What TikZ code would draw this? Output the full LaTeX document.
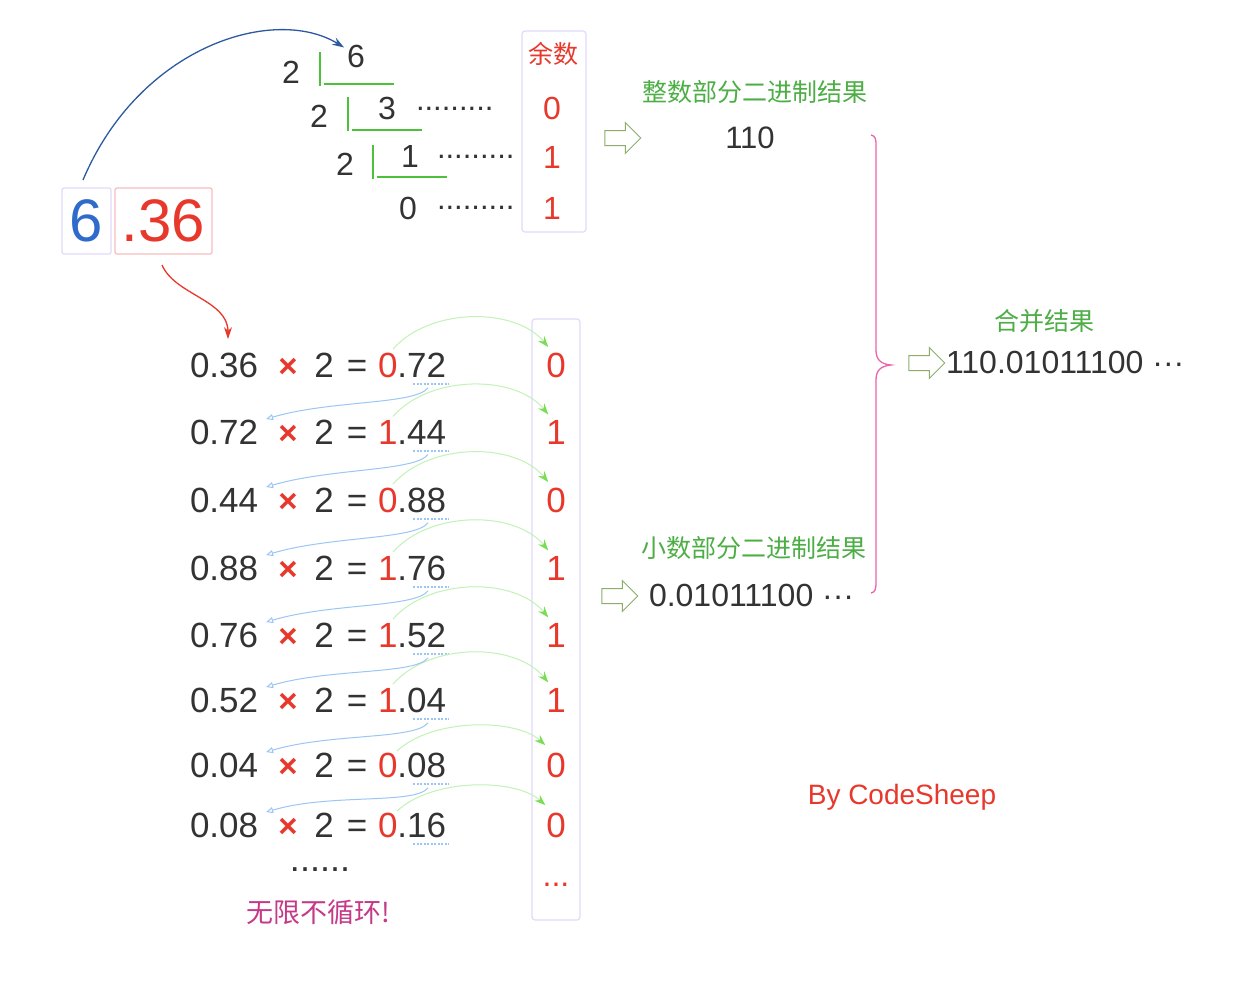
\documentclass[tikz,border=0pt]{standalone}
\usepackage{fontspec}
\setmainfont{Liberation Sans}
\newfontfamily\cjk{Noto Sans CJK SC}
\usetikzlibrary{arrows.meta,shapes.arrows,calc}
\definecolor{txt}{HTML}{333333}
\definecolor{redc}{HTML}{E8382C}
\definecolor{bluec}{HTML}{2F6BCB}
\definecolor{darkblue}{HTML}{2C5AA0}
\definecolor{greenln}{HTML}{4CC13A}
\definecolor{greentx}{HTML}{4DAE45}
\definecolor{lavender}{HTML}{E2DAFB}
\definecolor{pinkbox}{HTML}{F6BEBE}
\definecolor{garc}{HTML}{C2F2B6}
\definecolor{gtip}{HTML}{7BDD55}
\definecolor{barc}{HTML}{9CC6F5}
\definecolor{holl}{HTML}{8DAE6A}
\definecolor{brc}{HTML}{EC64AA}
\definecolor{mag}{HTML}{C53A88}
\newcommand\fsz[1]{\fontsize{#1}{#1}\selectfont}
\begin{document}
\begin{tikzpicture}[x=1pt,y=-1pt,
  base/.style={inner sep=0pt, outer sep=0pt, text=txt},
  dig/.style={base, font=\fsz{32}, anchor=base},
  num/.style={base, font=\fsz{35}, anchor=base},
  res/.style={base, font=\fsz{32}},
  cn/.style={base, font=\cjk\fsz{25}, text=greentx},
  gline/.style={draw=greenln, line width=2.6pt},
  lead/.style={base, font=\fsz{31}, anchor=base west},
  colbox/.style={draw=lavender, line width=1.2pt, rounded corners=3pt, fill=none},
  hollow/.style={single arrow, draw=holl, fill=white, line width=1pt, minimum height=36pt, single arrow head extend=8pt, inner sep=0pt, outer sep=0pt},
  garrow/.style={draw=garc, line width=1pt, -{Stealth[length=11pt, width=8pt, color=gtip]}},
  barrow/.style={draw=barc, line width=1pt, -{Triangle[open, length=7pt, width=6pt]}},
  uline/.style={draw=barc, line width=1.2pt, dash pattern=on 2pt off 1.5pt},
  bigarrow/.style={line width=1.3pt, -{Stealth[length=12pt, width=8pt]}}
]
\useasboundingbox (0,0) rectangle (1242,994);
\fill[white] (0,0) rectangle (1242,994);

% ---- 6.36 boxes
\node[base, draw=lavender, line width=1.2pt, rounded corners=2pt, minimum width=49pt, minimum height=66pt, font=\fsz{60}, text=bluec] (six) at (86.5,221) {6};
\node[base, draw=pinkbox, line width=1.2pt, rounded corners=2pt, minimum width=97pt, minimum height=66pt, font=\fsz{60}, text=redc] (p36) at (163.5,221) {.36};

% ---- integer division
\node[dig] (q1) at (291,83.5) {2};
\node[dig] (d6) at (356,67.5) {6};
\node[dig] (q2) at (319,127.5) {2};
\node[dig] (d3) at (387,119.5) {3};
\node[dig] (q3) at (345,175.5) {2};
\node[dig] (d1) at (410,167.5) {1};
\node[dig] (d0) at (408,219.5) {0};
\draw[gline] (320,52) -- (320,86);
\draw[gline] (324,84) -- (394,84);
\draw[gline] (348,97) -- (348,131);
\draw[gline] (352,130) -- (422,130);
\draw[gline] (373,145) -- (373,179);
\draw[gline] (377,177) -- (447,177);
\node[lead] (ld1) at (416,110) {.........};
\node[lead] (ld2) at (437,158.5) {.........};
\node[lead] (ld3) at (437,209) {.........};

\node[colbox, minimum width=64pt, minimum height=201pt] (rbox) at (554,131.5) {};
\node[base, font=\cjk\fsz{25}, text=redc] (yushu) at (553,54) {余数};
\node[dig, text=redc] (m1) at (552,119.5) {0};
\node[dig, text=redc] (m2) at (552,168.5) {1};
\node[dig, text=redc] (m3) at (552,219.5) {1};

\draw[bigarrow, darkblue] ($(six.north)+(-3.5,-8)$) .. controls (140,45) and (275,5) .. ($(d6.west)+(-3,-9)$);

% ---- fraction multiplication
\node[colbox, minimum width=48pt, minimum height=601pt] (cbox) at (556,619.5) {};
\foreach \i/\y/\a/\r/\rest/\c in {1/365/0.36/0/72/0, 2/432/0.72/1/44/1, 3/500/0.44/0/88/0, 4/568/0.88/1/76/1, 5/635/0.76/1/52/1, 6/700/0.52/1/04/1, 7/765/0.04/0/08/0, 8/825/0.08/0/16/0} {
  \node[num, anchor=base west] (l\i) at (190,\y+12.5) {\a};
  \node[num, text=redc, font=\bfseries\fsz{33}] (x\i) at (288,\y+12) {×};
  \node[num] (t\i) at (324,\y+12.5) {2};
  \node[num] (e\i) at (357,\y+12.5) {=};
  \node[num, anchor=base west] (r\i) at (378,\y+12.5) {\textcolor{redc}{\r}.\rest};
  \node[num, text=redc] (c\i) at (556,\y+12.5) {\c};
  \draw[uline] (413,\y+19) -- (449,\y+19);
}
\foreach \i in {1,...,6} {
  \draw[garrow] ($(r\i.north west)+(15,-4)$) .. controls +(37,-42) and +(-33,-40) .. ($(c\i.north west)+(2,-6)$);
}
\foreach \i in {7,8} {
  \draw[garrow] ($(r\i.north west)+(19,-2)$) .. controls +(35,-33) and +(-30,-27) .. ($(c\i.north west)+(-1,-8)$);
}
\foreach \i/\j in {1/2,2/3,3/4,4/5,5/6,6/7,7/8} {
  \draw[barrow] ($(r\i.south west)+(50,10)$) .. controls +(-13,17) and +(64,-19) .. ($(l\j.north east)+(8,-1)$);
}
\draw[bigarrow, redc] ($(p36.south)+(-1.5,11)$) .. controls (175,295) and (228,300) .. ($(l1.north west)+(38,-14)$);

\node[base, font=\fsz{36}, anchor=base] (more) at (320,871) {......};
\node[base, font=\fsz{32}, text=redc, anchor=base] (cmore) at (556,886) {...};
\node[base, font=\cjk\fsz{27}, text=mag] (inf) at (318,912) {无限不循环!};

% ---- results
\node[cn] (intlab) at (755,92) {整数部分二进制结果};
\node[hollow] (ha1) at (619,138) {\rule{0pt}{14pt}};
\node[res, font=\fsz{31}] (intres) at (750,138) {110};
\node[cn] (fraclab) at (754,548) {小数部分二进制结果};
\node[hollow] (ha2) at (616,596) {\rule{0pt}{14pt}};
\node[res, anchor=west] (fracres) at (649,595) {0.01011100 ···};
\node[cn] (mergelab) at (1044,321) {合并结果};
\node[hollow] (ha3) at (923,363) {\rule{0pt}{14pt}};
\node[res, anchor=west] (mergeres) at (946,362) {110.01011100 ···};

\draw[brc, line width=1.3pt] (871,135) .. controls (875,136) and (876,138) .. (876,145) -- (876,350) .. controls (876,359) and (880,364) .. (891,365) .. controls (880,366) and (876,371) .. (876,380) -- (876,582) .. controls (876,590) and (875,592) .. (871,593);

\node[base, font=\fsz{28}, text=redc] (by) at (902,797) {By CodeSheep};
\end{tikzpicture}
\end{document}
